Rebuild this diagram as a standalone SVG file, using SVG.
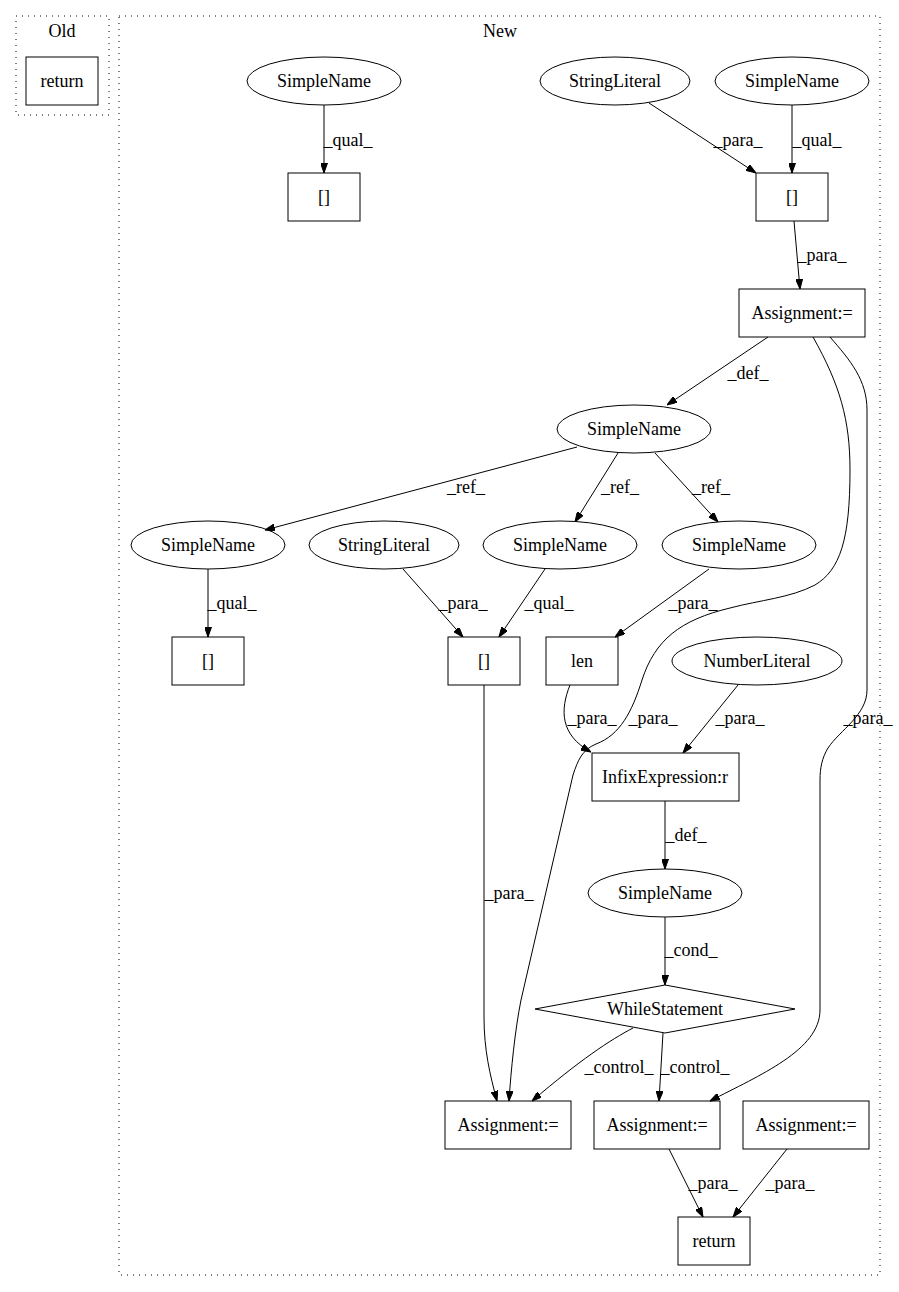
<svg xmlns="http://www.w3.org/2000/svg" width="899" height="1292" viewBox="0 0 899 1292">
<style>
text{font-family:"Liberation Serif","Times New Roman",serif;font-size:18px;fill:#000;text-anchor:middle}
.n{fill:none;stroke:#000;stroke-width:1}
.c{fill:none;stroke:#000;stroke-width:1;stroke-dasharray:1,5}
.e{fill:none;stroke:#000;stroke-width:1;marker-end:url(#ah)}
</style>
<defs>
<marker id="ah" viewBox="0 0 10 7" refX="10" refY="3.5" markerWidth="10" markerHeight="7" markerUnits="userSpaceOnUse" orient="auto">
<path d="M0,0 L10,3.5 L0,7 z" fill="#000" stroke="#000"/>
</marker>
</defs>
<rect width="899" height="1292" fill="#fff"/>
<g id="cluster_old">
<rect class="c" x="16" y="16" width="93" height="99"/>
<text x="62" y="37">Old</text>
</g>
<g id="cluster_new">
<rect class="c" x="119" y="16" width="761" height="1259"/>
<text x="500" y="37">New</text>
</g>
<g id="old_return"><rect class="n" x="26" y="57" width="72" height="48"/><text x="62" y="87">return</text></g>
<g id="sn_top_left"><ellipse class="n" cx="324" cy="81" rx="77" ry="24"/><text x="324" y="87">SimpleName</text></g>
<g id="idx_top_left"><rect class="n" x="288" y="173" width="72" height="48"/><text x="324" y="203">[]</text></g>
<g id="sl_top"><ellipse class="n" cx="615" cy="81" rx="75" ry="24"/><text x="615" y="87">StringLiteral</text></g>
<g id="sn_top_right"><ellipse class="n" cx="792" cy="81" rx="77" ry="24"/><text x="792" y="87">SimpleName</text></g>
<g id="idx_top_right"><rect class="n" x="756" y="173" width="72" height="48"/><text x="792" y="203">[]</text></g>
<g id="assign_top"><rect class="n" x="739" y="289" width="126" height="48"/><text x="802" y="319">Assignment:=</text></g>
<g id="sn_def"><ellipse class="n" cx="634" cy="429" rx="77" ry="24"/><text x="634" y="435">SimpleName</text></g>
<g id="sn_r3_left"><ellipse class="n" cx="208" cy="545" rx="77" ry="24"/><text x="208" y="551">SimpleName</text></g>
<g id="sl_r3"><ellipse class="n" cx="384" cy="545" rx="75" ry="24"/><text x="384" y="551">StringLiteral</text></g>
<g id="sn_r3_mid"><ellipse class="n" cx="560" cy="545" rx="77" ry="24"/><text x="560" y="551">SimpleName</text></g>
<g id="sn_r3_right"><ellipse class="n" cx="739" cy="545" rx="77" ry="24"/><text x="739" y="551">SimpleName</text></g>
<g id="idx_r4_left"><rect class="n" x="172" y="637" width="72" height="48"/><text x="208" y="667">[]</text></g>
<g id="idx_r4_mid"><rect class="n" x="448" y="637" width="72" height="48"/><text x="484" y="667">[]</text></g>
<g id="len"><rect class="n" x="546" y="637" width="72" height="48"/><text x="582" y="667">len</text></g>
<g id="num_lit"><ellipse class="n" cx="757" cy="661" rx="85" ry="24"/><text x="757" y="667">NumberLiteral</text></g>
<g id="infix"><rect class="n" x="592" y="753" width="147" height="48"/><text x="665" y="783">InfixExpression:r</text></g>
<g id="sn_cond"><ellipse class="n" cx="665" cy="893" rx="77" ry="24"/><text x="665" y="899">SimpleName</text></g>
<g id="while"><polygon class="n" points="665,985 795,1009 665,1033 535,1009"/><text x="665" y="1015">WhileStatement</text></g>
<g id="assign_bl"><rect class="n" x="445" y="1101" width="126" height="48"/><text x="508" y="1131">Assignment:=</text></g>
<g id="assign_bm"><rect class="n" x="594" y="1101" width="126" height="48"/><text x="657" y="1131">Assignment:=</text></g>
<g id="assign_br"><rect class="n" x="743" y="1101" width="126" height="48"/><text x="806" y="1131">Assignment:=</text></g>
<g id="return_new"><rect class="n" x="678" y="1217" width="72" height="48"/><text x="714" y="1247">return</text></g>
<g id="edges">
<path class="e" d="M324,105 L324,173"/>
<text x="348" y="146">_qual_</text>
<path class="e" d="M649,103 L756,173"/>
<text x="738" y="146">_para_</text>
<path class="e" d="M792,105 L792,173"/>
<text x="817" y="146">_qual_</text>
<path class="e" d="M794,221 L800,289"/>
<text x="822" y="261">_para_</text>
<path class="e" d="M768,337 L667,405"/>
<text x="748" y="379">_def_</text>
<path class="e" d="M577,447 L265,530"/>
<text x="466" y="493">_ref_</text>
<path class="e" d="M618,453 L575,522"/>
<text x="620" y="493">_ref_</text>
<path class="e" d="M655,453 L718,522"/>
<text x="711" y="493">_ref_</text>
<path class="e" d="M208,569 L208,637"/>
<text x="232" y="609">_qual_</text>
<path class="e" d="M403,569 L463,637"/>
<text x="463" y="609">_para_</text>
<path class="e" d="M545,569 L499,637"/>
<text x="549" y="609">_qual_</text>
<path class="e" d="M709,569 L615,637"/>
<text x="693" y="609">_para_</text>
<path class="e" d="M570,685 C560,710 560,735 591,752"/>
<text x="592" y="724">_para_</text>
<path class="e" d="M813,337 C840,385 850,420 850,470 C850,540 840,570 815,585 C790,598 760,600 730,608 C680,620 655,640 642,680 C632,712 620,735 596,744 C582,750 578,760 573,775 L521,1000 C515,1030 511,1070 509,1101"/>
<text x="653" y="724">_para_</text>
<path class="e" d="M738,685 L683,753"/>
<text x="740" y="724">_para_</text>
<path class="e" d="M830,337 C850,360 867,380 867,410 L867,690 C867,715 840,730 828,748 C822,758 820,768 820,780 L820,1010 C820,1050 760,1075 710,1101"/>
<text x="868" y="724">_para_</text>
<path class="e" d="M665,801 L665,869"/>
<text x="686" y="841">_def_</text>
<path class="e" d="M665,917 L665,985"/>
<text x="691" y="956">_cond_</text>
<path class="e" d="M484,685 L484,1017 C484,1050 490,1075 497,1101"/>
<text x="509" y="899">_para_</text>
<path class="e" d="M633,1028 C610,1040 580,1060 532,1101"/>
<text x="619" y="1073">_control_</text>
<path class="e" d="M663,1033 L659,1101"/>
<text x="695" y="1073">_control_</text>
<path class="e" d="M669,1149 L703,1217"/>
<text x="713" y="1189">_para_</text>
<path class="e" d="M787,1149 L733,1217"/>
<text x="790" y="1189">_para_</text>
</g>
</svg>
